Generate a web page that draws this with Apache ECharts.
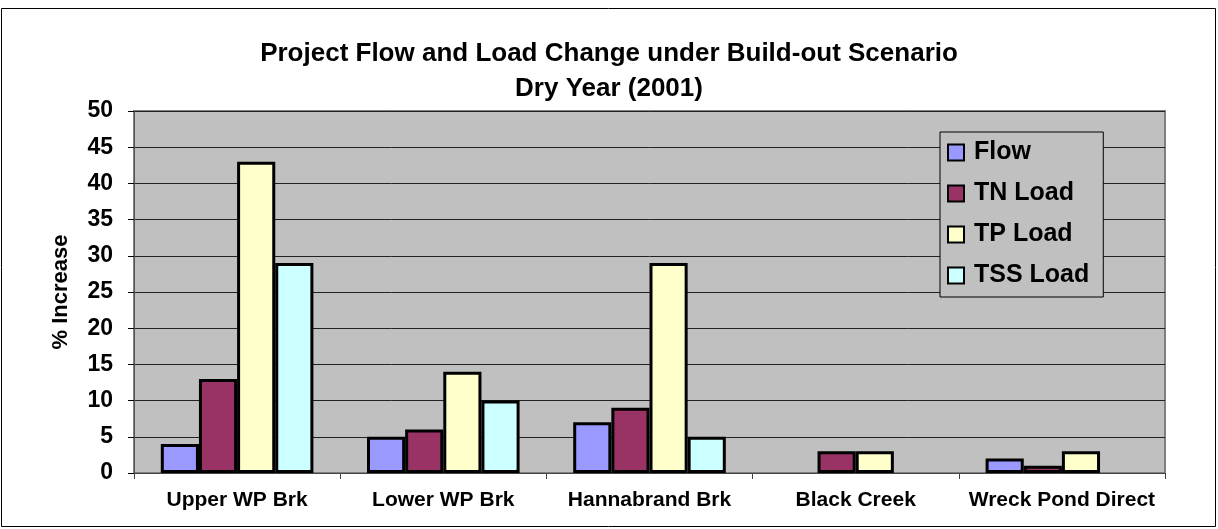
<!DOCTYPE html>
<html>
<head>
<meta charset="utf-8">
<script src="https://cdn.jsdelivr.net/npm/echarts@6/dist/echarts.min.js"></script>
<style>
  html, body { margin: 0; padding: 0; background: #ffffff; }
  #chart { width: 1218px; height: 529px; }
</style>
</head>
<body>
<div id="chart"></div>
<script>
// Sub-watersheds along the x axis
const categories = ['Upper WP Brk', 'Lower WP Brk', 'Hannabrand Brk', 'Black Creek', 'Wreck Pond Direct'];

// Percent increase under the build-out scenario, dry year 2001
const flow    = [4, 5, 7, 0, 2];
const tnLoad  = [13, 6, 9, 3, 1];
const tpLoad  = [43, 14, 29, 3, 3];
const tssLoad = [29, 10, 5, 0, 0];

const seriesNames = ['Flow', 'TN Load', 'TP Load', 'TSS Load'];
const seriesColors = ['#9999ff', '#993366', '#ffffcc', '#ccffff'];

const FONT = '"Liberation Sans", Arial, sans-serif';

// A zero value draws no bar outline at the baseline
function toBarData(values) {
  return values.map(v => v === 0 ? { value: 0, itemStyle: { borderWidth: 0 } } : v);
}

const chart = echarts.init(document.getElementById('chart'), null, { renderer: 'canvas' });

const series = [flow, tnLoad, tpLoad, tssLoad].map((vals, i) => ({
  name: seriesNames[i],
  type: 'bar',
  data: toBarData(vals),
  barGap: '0%',
  barCategoryGap: '26%',
  itemStyle: { color: seriesColors[i], borderColor: '#000', borderWidth: 3 },
  emphasis: { disabled: true }
}));

chart.setOption({
  animation: false,
  backgroundColor: '#ffffff',
  textStyle: { fontFamily: FONT },
  title: {
    text: 'Project Flow and Load Change under Build-out Scenario\nDry Year (2001)',
    left: 'center',
    top: 31,
    textStyle: { fontFamily: FONT, fontSize: 26, fontWeight: 'bold', color: '#000', lineHeight: 35 }
  },
  graphic: [{
    type: 'rect',
    shape: { x: 1.5, y: 8.5, width: 1214, height: 518 },
    style: { fill: 'none', stroke: '#000', lineWidth: 1 },
    silent: true,
    z: -1
  }],
  legend: {
    orient: 'vertical',
    left: 940,
    top: 132,
    padding: [8, 14, 9, 7],
    itemGap: 16,
    itemWidth: 16,
    itemHeight: 16,
    icon: 'rect',
    backgroundColor: '#c0c0c0',
    borderColor: '#000',
    borderWidth: 1,
    itemStyle: { borderColor: '#000', borderWidth: 2 },
    textStyle: { fontFamily: FONT, fontSize: 25, fontWeight: 'bold', color: '#000', lineHeight: 24, padding: [0, 0, 0, 5] },
    selectedMode: false,
    data: seriesNames
  },
  grid: {
    left: 134,
    right: 53,
    top: 111,
    bottom: 56,
    show: true,
    backgroundColor: '#c0c0c0',
    borderColor: '#808080',
    borderWidth: 2
  },
  xAxis: {
    type: 'category',
    data: categories,
    axisLine: { show: true, lineStyle: { color: '#444', width: 1 } },
    axisTick: { show: true, length: 6, lineStyle: { color: '#444' } },
    axisLabel: { fontFamily: FONT, fontSize: 21, fontWeight: 'bold', color: '#000', margin: 17, interval: 0 },
    splitLine: { show: false }
  },
  yAxis: {
    type: 'value',
    min: 0,
    max: 50,
    interval: 5,
    name: '% Increase',
    nameLocation: 'middle',
    nameGap: 62,
    nameTextStyle: { fontFamily: FONT, fontSize: 22, fontWeight: 'bold', color: '#000' },
    axisLine: { show: true, lineStyle: { color: '#555', width: 1 } },
    axisTick: { show: true, length: 6, lineStyle: { color: '#000' } },
    axisLabel: { fontFamily: FONT, fontSize: 23, fontWeight: 'bold', color: '#000', margin: 21 },
    splitLine: { show: true, lineStyle: { color: '#222', width: 1 } }
  },
  series: series
});
</script>
</body>
</html>
